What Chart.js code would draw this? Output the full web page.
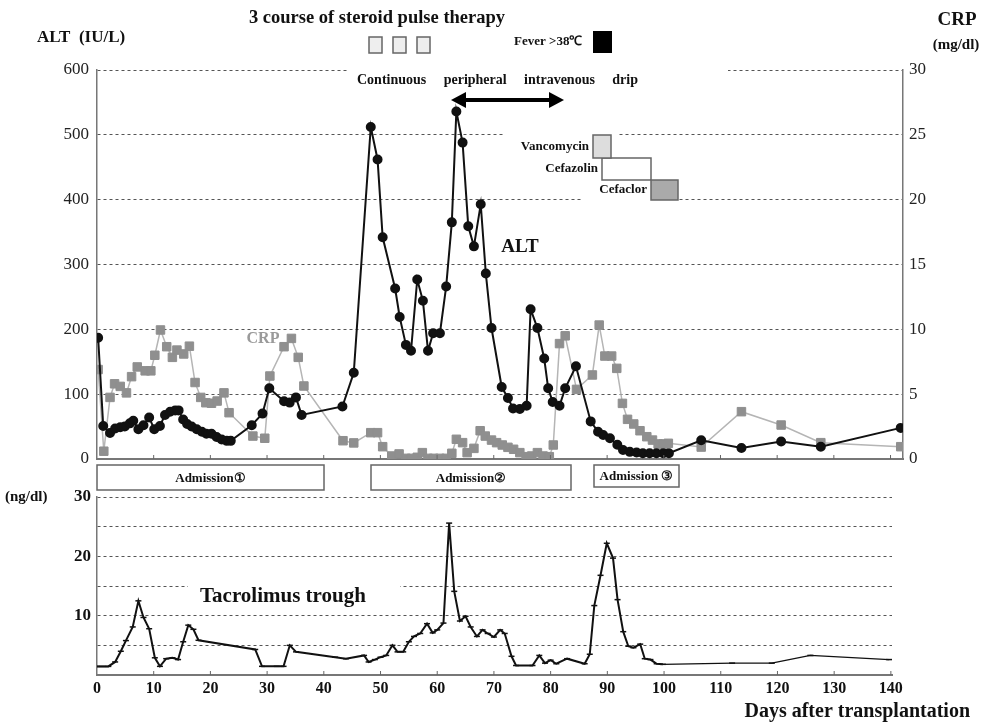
<!DOCTYPE html>
<html>
<head>
<meta charset="utf-8">
<script src="https://cdn.jsdelivr.net/npm/chart.js@4.4.0/dist/chart.umd.min.js"></script>
<style>
  body { margin: 0; background: #fff; width: 988px; height: 723px; overflow: hidden; position: relative; }
  .wrap { position: absolute; left: 0; width: 988px; }
</style>
</head>
<body>
<div class="wrap" style="top:0;height:495px"><canvas id="topChart"></canvas></div>
<div class="wrap" style="top:480px;height:243px"><canvas id="botChart"></canvas></div>
<script>
// ALT (IU/L), black circles
const altDays = [0.2, 1.1, 2.3, 3.2, 4.1, 4.9, 5.8, 6.4, 7.3, 8.2, 9.2, 10.1, 11.1, 12, 12.9, 13.8, 14.4, 15.2, 15.9, 16.7, 17.6, 18.5, 19.3, 20.2, 21.1, 22, 22.9, 23.6,
  27.3, 29.2, 30.4, 33, 34, 35.1, 36.1, 43.3, 45.3, 48.3, 49.5, 50.4, 52.6, 53.4, 54.5, 55.4, 56.5, 57.5, 58.4, 59.3, 60.5, 61.6, 62.6, 63.4, 64.5, 65.5, 66.5, 67.7, 68.6, 69.6,
  71.4, 72.5, 73.4, 74.6, 75.8, 76.5, 77.7, 78.9, 79.6, 80.4, 81.6, 82.6, 84.5, 87.1, 88.4, 89.3, 90.5, 91.8, 92.8, 94, 95.2, 96.3, 97.5, 98.7, 99.9, 100.9,
  106.6, 113.7, 120.7, 127.7, 141.8];
const altValues = [187, 51, 40, 47, 49, 50, 55, 59, 46, 52, 64, 46, 51, 68, 73, 75, 75, 61, 54, 50, 46, 42, 39, 39, 34, 30, 28, 28,
  52, 70, 109, 89, 87, 95, 68, 81, 133, 512, 462, 342, 263, 219, 176, 167, 277, 244, 167, 194, 194, 266, 365, 536, 488, 359, 328, 393, 286, 202,
  111, 94, 78, 77, 82, 231, 202, 155, 109, 88, 82, 109, 143, 58, 42, 37, 32, 22, 14, 11, 10, 9, 9, 9, 9, 9,
  29, 17, 27, 19, 48];

// CRP (mg/dl), grey squares
const crpDays = [0.2, 1.2, 2.3, 3.1, 4.1, 5.2, 6.1, 7.1, 8.5, 9.5, 10.2, 11.2, 12.3, 13.3, 14.1, 15.3, 16.3, 17.3, 18.3, 19.2, 20.2, 21.2, 22.4, 23.3,
  27.5, 29.6, 30.5, 33, 34.3, 35.5, 36.5, 43.4, 45.3, 48.3, 49.5, 50.4, 52, 53.3, 54.5, 55.5, 56.5, 57.4, 58.4, 59.4, 60.5, 61.6, 62.6, 63.4, 64.5, 65.3, 66.5,
  67.6, 68.5, 69.6, 70.5, 71.5, 72.5, 73.5, 74.6, 75.7, 76.7, 77.7, 78.7, 79.8, 80.5, 81.6, 82.6, 84.6, 87.4, 88.6, 89.6, 90.8, 91.7, 92.7, 93.6, 94.7,
  95.8, 97, 98, 99, 99.9, 100.8, 106.6, 113.7, 120.7, 127.7, 141.8];
const crpValues = [6.9, 0.6, 4.75, 5.8, 5.6, 5.1, 6.35, 7.1, 6.8, 6.8, 8.0, 9.95, 8.66, 7.84, 8.4, 8.1, 8.7, 5.9, 4.75, 4.34, 4.3, 4.47, 5.1, 3.57,
  1.77, 1.6, 6.4, 8.66, 9.3, 7.84, 5.63, 1.41, 1.24, 2.03, 2.03, 0.95, 0.23, 0.39, 0.05, 0.05, 0.13, 0.49, 0.05, 0.05, 0.05, 0.05, 0.44, 1.52, 1.26, 0.49, 0.82,
  2.18, 1.77, 1.46, 1.26, 1.08, 0.9, 0.75, 0.49, 0.18, 0.23, 0.49, 0.23, 0.18, 1.08, 8.9, 9.5, 5.37, 6.48, 10.33, 7.94, 7.94, 6.99, 4.29, 3.06, 2.7,
  2.18, 1.72, 1.46, 1.16, 1.16, 1.21, 0.92, 3.65, 2.62, 1.26, 0.95];

// Tacrolimus trough (ng/dl)
const tacDays = [0, 1, 2, 3.2, 4.2, 5.1, 6.3, 7.3, 8.2, 9.2, 10.2, 11.1, 12.2, 13.3, 14.3, 15.2, 16.1, 17, 17.9, 27.9, 29.1, 31.7, 32.9, 34, 35.1,
  42, 43.9, 47.1, 47.9, 49, 50, 51, 52.1, 53, 54, 55, 55.9, 57, 58.2, 59.2, 60, 61.1, 62.1, 63, 64, 65, 65.9, 67, 68, 68.9, 70, 71.1, 71.9,
  73.1, 73.9, 76.8, 78, 79, 80, 81, 82.9, 86, 86.9, 87.7, 88.8, 89.9, 91, 91.8, 92.8, 93.7, 94.6, 95.8, 96.6, 97.6, 98.7, 99.8,
  112, 119, 125.8, 139.7];
const tacValues = [1.45, 1.45, 1.45, 2.2, 4.0, 5.8, 8.1, 12.5, 9.7, 7.8, 2.9, 1.46, 2.75, 2.9, 2.6, 5.6, 8.4, 7.7, 5.85, 4.3, 1.46, 1.46, 1.46, 5.0, 3.9,
  3.0, 2.75, 3.3, 2.2, 2.6, 3.0, 3.3, 5.0, 3.9, 3.9, 5.6, 6.5, 7.0, 8.65, 7.1, 7.6, 8.75, 25.6, 14.1, 9.1, 9.9, 8.1, 6.5, 7.6, 7.0, 6.4, 7.6, 7.0,
  3.15, 1.6, 1.6, 3.3, 2.0, 2.5, 1.9, 2.75, 1.9, 3.5, 11.7, 16.8, 22.2, 19.7, 12.7, 7.3, 4.85, 4.6, 5.2, 2.75, 2.6, 1.9, 1.8,
  2.0, 2.0, 3.3, 2.6];

const dayTicks = [0, 10, 20, 30, 40, 50, 60, 70, 80, 90, 100, 110, 120, 130, 140];

const admissions = [
  { label: "Admission\u2460", x: 97, w: 227, h: 25 },
  { label: "Admission\u2461", x: 371, w: 200, h: 25 },
  { label: "Admission \u2462", x: 594, w: 85, h: 22 }
];

const SERIF = "'Liberation Serif', 'Times New Roman', serif";
const toXY = (xs, ys) => xs.map((d, i) => ({ x: d, y: ys[i] }));
const gridColor = (c) => (c.tick && c.tick.value === 0 ? "rgba(0,0,0,0)" : "#555");

function text(ctx, str, x, y, size, align, color) {
  ctx.font = "bold " + size + "px " + SERIF;
  ctx.textAlign = align || "left";
  ctx.textBaseline = "middle";
  ctx.fillStyle = color || "#111";
  ctx.fillText(str, x, y);
}

function box(ctx, x, y, w, h, fill) {
  ctx.fillStyle = fill;
  ctx.fillRect(x, y, w, h);
  ctx.strokeStyle = "#666";
  ctx.lineWidth = 1.5;
  ctx.strokeRect(x, y, w, h);
}

const innerTicks = {
  id: "innerTicks",
  afterDraw(chart) {
    const { ctx, chartArea } = chart;
    const x = chart.scales.x;
    ctx.save();
    ctx.strokeStyle = "#666";
    ctx.lineWidth = 1;
    dayTicks.slice(1).forEach((d) => {
      const px = x.getPixelForValue(d);
      ctx.beginPath();
      ctx.moveTo(px, chartArea.bottom);
      ctx.lineTo(px, chartArea.bottom - 4);
      ctx.stroke();
    });
    ctx.restore();
  }
};

const topDecor = {
  id: "topDecor",
  beforeDatasetsDraw(chart) {
    const ctx = chart.ctx;
    ctx.save();
    ctx.fillStyle = "#fff";
    ctx.fillRect(348, 60, 380, 32);
    ctx.fillRect(503, 126, 115, 18);
    ctx.fillRect(583, 192, 96, 14);
    ctx.restore();
  },
  afterDraw(chart) {
    const ctx = chart.ctx;
    ctx.save();
    text(ctx, "3 course of steroid pulse therapy", 377, 18, 18.5, "center");
    [369, 393, 417].forEach((x) => box(ctx, x, 37, 13, 16, "#eee"));
    text(ctx, "Fever >38\u2103", 514, 42, 13, "left");
    ctx.fillStyle = "#000";
    ctx.fillRect(593, 31, 19, 22);

    // continuous drip label, words spread out
    const words = ["Continuous", "peripheral", "intravenous", "drip"];
    ctx.font = "bold 14px " + SERIF;
    const total = words.reduce((s, w) => s + ctx.measureText(w).width, 0);
    const gap = (281 - total) / 3;
    let wx = 357;
    words.forEach((w) => {
      text(ctx, w, wx, 80, 14, "left");
      wx += ctx.measureText(w).width + gap;
    });

    // double arrow
    ctx.strokeStyle = "#000";
    ctx.fillStyle = "#000";
    ctx.lineWidth = 4;
    ctx.beginPath();
    ctx.moveTo(462, 100);
    ctx.lineTo(553, 100);
    ctx.stroke();
    ctx.beginPath();
    ctx.moveTo(451, 100); ctx.lineTo(466, 92); ctx.lineTo(466, 108); ctx.closePath();
    ctx.fill();
    ctx.beginPath();
    ctx.moveTo(564, 100); ctx.lineTo(549, 92); ctx.lineTo(549, 108); ctx.closePath();
    ctx.fill();

    // antibiotics
    box(ctx, 602, 158, 49, 22, "#fff");
    box(ctx, 593, 135, 18, 23, "#ddd");
    box(ctx, 651, 180, 27, 20, "#aaa");
    text(ctx, "Vancomycin", 589, 147, 13, "right");
    text(ctx, "Cefazolin", 598, 169, 13, "right");
    text(ctx, "Cefaclor", 647, 190, 13, "right");

    text(ctx, "ALT", 520, 247, 19, "center");
    text(ctx, "CRP", 263, 339, 16, "center", "#9a9a9a");
    text(ctx, "ALT  (IU/L)", 37, 38, 17, "left");
    text(ctx, "CRP", 957, 20, 19, "center");
    text(ctx, "(mg/dl)", 956, 45, 15, "center");

    admissions.forEach((a) => {
      box(ctx, a.x, 465, a.w, a.h, "#fff");
      text(ctx, a.label, a.x + a.w / 2, 465 + a.h / 2 + 1, 13, "center");
    });
    ctx.restore();
  }
};

const botDecor = {
  id: "botDecor",
  beforeDatasetsDraw(chart) {
    const ctx = chart.ctx;
    ctx.save();
    ctx.fillStyle = "#fff";
    ctx.fillRect(188, 98, 212, 30);
    ctx.restore();
  },
  afterDraw(chart) {
    const ctx = chart.ctx;
    ctx.save();
    text(ctx, "(ng/dl)", 5, 17, 15, "left");
    text(ctx, "Tacrolimus trough", 200, 117, 21, "left");
    text(ctx, "Days after transplantation", 970, 232, 20, "right");
    ctx.restore();
  }
};

new Chart(document.getElementById("topChart"), {
  type: "line",
  data: {
    datasets: [
      {
        label: "ALT",
        data: toXY(altDays, altValues),
        yAxisID: "y",
        borderColor: "#111",
        borderWidth: 2,
        pointStyle: "circle",
        pointRadius: 4,
        pointBackgroundColor: "#111",
        pointBorderColor: "#111",
        tension: 0
      },
      {
        label: "CRP",
        data: toXY(crpDays, crpValues),
        yAxisID: "y1",
        borderColor: "#b5b5b5",
        borderWidth: 1.5,
        pointStyle: "rect",
        pointRadius: 6,
        pointBackgroundColor: "#8f8f8f",
        pointBorderColor: "#8f8f8f",
        pointBorderWidth: 1,
        tension: 0
      }
    ]
  },
  options: {
    responsive: true,
    maintainAspectRatio: false,
    animation: false,
    events: [],
    layout: { padding: { top: 70, left: 0, right: 0, bottom: 0 } },
    plugins: { legend: { display: false }, tooltip: { enabled: false } },
    scales: {
      x: {
        type: "linear",
        min: 0,
        max: 142.2,
        ticks: { display: false },
        grid: { display: false, drawTicks: false },
        border: { display: true, color: "#777", width: 2 },
        afterFit: (s) => { s.height = 36; }
      },
      y: {
        position: "left",
        min: 0,
        max: 600,
        ticks: { stepSize: 100, padding: 8, color: "#222", font: { family: SERIF, size: 17 } },
        grid: { color: gridColor, lineWidth: 1, drawTicks: false, borderDash: [3, 3] },
        border: { display: true, color: "#777", width: 1.5, dash: [3, 3] },
        afterFit: (s) => { s.width = 97; }
      },
      y1: {
        position: "right",
        min: 0,
        max: 30,
        ticks: { stepSize: 5, padding: 6, color: "#222", font: { family: SERIF, size: 17 } },
        grid: { display: false, drawTicks: false },
        border: { display: true, color: "#777", width: 1.5 },
        afterFit: (s) => { s.width = 85; }
      }
    }
  },
  plugins: [innerTicks, topDecor]
});

new Chart(document.getElementById("botChart"), {
  type: "line",
  data: {
    datasets: [
      {
        label: "Tacrolimus trough",
        data: toXY(tacDays, tacValues),
        borderColor: "#111",
        borderWidth: 2,
        segment: { borderWidth: (c) => (c.p0.parsed.x >= 99 ? 1.2 : 2) },
        pointStyle: "line",
        pointRadius: 3,
        pointBorderColor: "#111",
        pointBorderWidth: 1.5,
        tension: 0
      }
    ]
  },
  options: {
    responsive: true,
    maintainAspectRatio: false,
    animation: false,
    events: [],
    layout: { padding: { top: 17, left: 0, right: 96, bottom: 0 } },
    plugins: { legend: { display: false }, tooltip: { enabled: false } },
    scales: {
      x: {
        type: "linear",
        min: 0,
        max: 140.2,
        afterBuildTicks: (s) => { s.ticks = dayTicks.map((v) => ({ value: v })); },
        ticks: {
          autoSkip: false,
          maxRotation: 0,
          padding: 4,
          color: "#111",
          font: { family: SERIF, size: 16, weight: "bold" }
        },
        grid: { display: false, drawTicks: false },
        border: { display: true, color: "#777", width: 2 },
        afterFit: (s) => { s.height = 48; }
      },
      y: {
        min: 0,
        max: 30,
        ticks: {
          stepSize: 5,
          padding: 6,
          color: "#111",
          font: { family: SERIF, size: 17, weight: "bold" },
          callback: (v) => (v > 0 && v % 10 === 0 ? v : "")
        },
        grid: { color: gridColor, lineWidth: 1, drawTicks: false, borderDash: [3, 3] },
        border: { display: true, color: "#777", width: 1.5, dash: [3, 3] },
        afterFit: (s) => { s.width = 97; }
      }
    }
  },
  plugins: [innerTicks, botDecor]
});
</script>
</body>
</html>
